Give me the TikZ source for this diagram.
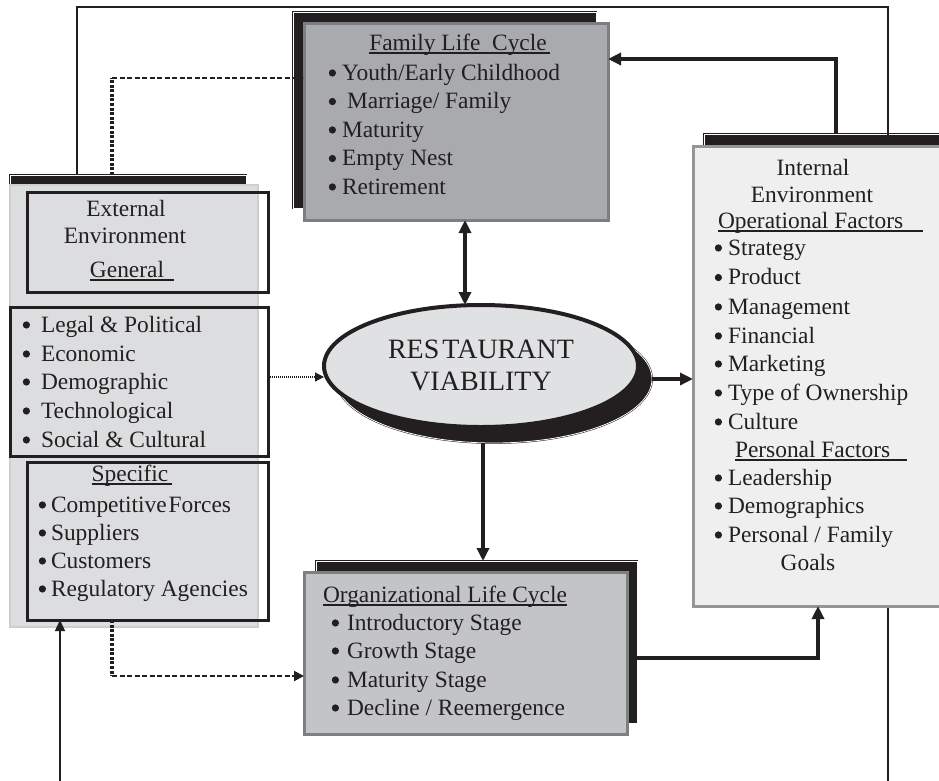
\documentclass[tikz,border=0pt]{standalone}
\usepackage{fontspec}
\setmainfont{Liberation Serif}
\usetikzlibrary{arrows.meta,shapes.geometric,calc}
\definecolor{famgray}{HTML}{A9AAAD}
\definecolor{famedge}{HTML}{7D7E80}
\definecolor{orggray}{HTML}{C3C4C7}
\definecolor{orgedge}{HTML}{7E7F81}
\definecolor{extgray}{HTML}{DCDDDF}
\definecolor{extedge}{HTML}{CDCED0}
\definecolor{intgray}{HTML}{EFEFEF}
\definecolor{intedge}{HTML}{959597}
\definecolor{ellgray}{HTML}{E0E1E3}
\definecolor{ink}{HTML}{231F20}
% bulleted line: name, bullet x, baseline y, text x, text
% a dot drawn beneath the bullet glyph makes it as heavy as in the original
\newcommand\bitem[5]{%
  \coordinate (#1c) at (#2,#3);
  \fill[ink] ([xshift=4.4pt,yshift=7pt]#1c) circle (3.6pt);
  \node[txt, font=\fontsize{25}{28}\selectfont] (#1b) at ([yshift=-1.5pt]#1c) {•};
  \node[txt] (#1) at (#4,#3) {#5};}
\begin{document}
\begin{tikzpicture}[x=1pt,y=-1pt,
  shadowbox/.style={rectangle, fill=ink, draw=ink, double=white, double distance=0.8pt, line width=0.5pt, inner sep=0pt, outer sep=0pt},
  panel/.style={rectangle, inner sep=0pt, outer sep=0pt},
  frame/.style={rectangle, draw=ink, line width=3pt, inner sep=0pt, outer sep=0pt},
  txt/.style={inner sep=0pt, outer sep=0pt, font=\fontsize{23.4}{28}\selectfont, text=ink, anchor=base west},
  ctxt/.style={txt, anchor=base},
  ulstyle/.style={draw=ink, line width=1.2pt},
  bigarrow/.style={draw=ink, line width=4pt, -{Triangle[length=13pt,width=12pt]}},
  thinline/.style={draw=ink, line width=1.2pt},
  dotvert/.style={draw=ink, line width=3.5pt, dash pattern=on 3pt off 1.6pt},
  dashline/.style={draw=ink, line width=2pt, dash pattern=on 5pt off 2.5pt, -{Triangle[length=10pt,width=10pt]}},
  dotline/.style={draw=ink, line width=1.2pt, dash pattern=on 1.2pt off 0.8pt, -{Triangle[length=9pt,width=9pt]}}]
\useasboundingbox (0,0) rectangle (939,780);
\clip (0,0) rectangle (939,780);

% coordinates for connector routes
\coordinate (c1) at (77,7);
\coordinate (c2) at (888,7);
\coordinate (c3) at (888,790);
\coordinate (d1) at (112,78);
\coordinate (t1) at (836,59);
\coordinate (da) at (465,0);
\coordinate (m) at (0,377);
\coordinate (v) at (483,0);
\coordinate (o1) at (818,658);
\coordinate (b1) at (60,790);
\coordinate (d2) at (112,676);

% shadows
\node[shadowbox, minimum width=236pt, minimum height=442pt] (lsh) at (128,396) {};
\node[shadowbox, minimum width=303pt, minimum height=196pt] (famsh) at (444.5,110) {};
\node[shadowbox, minimum width=250pt, minimum height=461pt] (rsh) at (829,364.5) {};
\node[shadowbox, minimum width=321pt, minimum height=162pt] (osh) at (476.5,642) {};

% thin outer line (behind the right panel)
\draw[thinline] (lsh.north -| c1) -- (c1) -- (c2) -- (c3);

% panels
\node[panel, fill=extgray, draw=extedge, line width=1.5pt, minimum width=248pt, minimum height=442pt] (lbox) at (134,406) {};
\node[panel, fill=famgray, draw=famedge, line width=3pt, minimum width=304pt, minimum height=197pt] (fam) at (456,121.5) {};
\node[panel, fill=intgray, draw=intedge, line width=3pt, minimum width=262pt, minimum height=460pt] (rbox) at (824,376) {};
\node[panel, fill=orggray, draw=orgedge, line width=3pt, minimum width=323pt, minimum height=162pt] (obox) at (465.5,653) {};

% inner frames of the external environment panel
\node[frame, minimum width=241pt, minimum height=100pt] (gen) at (147.5,242.5) {};
\node[frame, minimum width=258pt, minimum height=149pt] (bul) at (139,381.5) {};
\node[frame, minimum width=241pt, minimum height=158pt] (spec) at (147.5,541) {};

% ellipse
\node[ellipse, fill=ink, draw=ink, double=white, double distance=0.8pt, line width=0.5pt, minimum width=316pt, minimum height=128pt, inner sep=0pt, outer sep=0pt] (ellsh) at (494,379) {};
\node[ellipse, fill=ellgray, draw=ink, line width=4pt, minimum width=314pt, minimum height=122pt, inner sep=0pt, outer sep=0pt] (ell) at (481,366) {};
\node[ctxt, font=\fontsize{28}{32}\selectfont] (ellt1) at (481,358) {RES\kern3pt TAURANT};
\node[ctxt, font=\fontsize{28}{32}\selectfont] (ellt2) at (481,390) {VIABILITY};

% family life cycle text
\node[ctxt] (famt) at (458,50) {Family Life\ \ Cycle};
\draw[ulstyle] ([yshift=-3pt]famt.base west) -- ([yshift=-3pt,xshift=3pt]famt.base east);
\bitem{f1}{328}{80}{342}{Youth/Early Childhood}
\bitem{f2}{328}{108.5}{347}{Marriage/ Family}
\bitem{f3}{328}{137}{342}{Maturity}
\bitem{f4}{328}{165.5}{342}{Empty Nest}
\bitem{f5}{328}{194}{342}{Retirement}

% external environment text
\node[ctxt] (e1) at (126,216) {External};
\node[ctxt] (e2) at (125,243) {Environment};
\node[ctxt] (e3) at (127,277) {General};
\draw[ulstyle] ([yshift=-3pt]e3.base west) -- ([yshift=-3pt,xshift=10pt]e3.base east);
\bitem{g1}{22}{332}{41}{Legal \& Political}
\bitem{g2}{22}{361}{41}{Economic}
\bitem{g3}{22}{389}{41}{Demographic}
\bitem{g4}{22}{418}{41}{Technological}
\bitem{g5}{22}{447}{41}{Social \& Cultural}
\node[ctxt] (s0) at (130,481) {Specific};
\draw[ulstyle] ([yshift=-3pt]s0.base west) -- ([yshift=-3pt,xshift=4pt]s0.base east);
\bitem{s1}{38}{512}{51}{Competitive\hspace{2pt}Forces}
\bitem{s2}{38}{540}{51}{Suppliers}
\bitem{s3}{38}{568}{51}{Customers}
\bitem{s4}{38}{596}{51}{Regulatory Agencies}

% internal environment text
\node[ctxt] (i1) at (813,175) {Internal};
\node[ctxt] (i2) at (812,202) {Environment};
\node[txt] (i3) at (718,228) {Operational Factors};
\draw[ulstyle] ([yshift=-3pt]i3.base west) -- ([yshift=-3pt,xshift=20pt]i3.base east);
\bitem{r1}{714}{255}{728}{Strategy}
\bitem{r2}{714}{284.5}{728}{Product}
\bitem{r3}{714}{314}{728}{Management}
\bitem{r4}{714}{343}{728}{Financial}
\bitem{r5}{714}{371}{728}{Marketing}
\bitem{r6}{714}{400}{728}{Type of Ownership}
\bitem{r7}{714}{429}{728}{Culture}
\node[txt] (i4) at (735,457) {Personal Factors};
\draw[ulstyle] ([yshift=-3pt]i4.base west) -- ([yshift=-3pt,xshift=17pt]i4.base east);
\bitem{p1}{714}{485}{728}{Leadership}
\bitem{p2}{714}{513}{728}{Demographics}
\bitem{p3}{714}{542}{728}{Personal / Family}
\node[ctxt] (p4) at (808,570) {Goals};

% organizational life cycle text
\node[txt] (ot) at (323,602) {Organizational Life Cycle};
\draw[ulstyle] ([yshift=-3pt]ot.base west) -- ([yshift=-3pt]ot.base east);
\bitem{q1}{331}{630}{347}{Introductory Stage}
\bitem{q2}{331}{658}{347}{Growth Stage}
\bitem{q3}{331}{687}{347}{Maturity Stage}
\bitem{q4}{331}{715}{347}{Decline / Reemergence}

% connectors
\draw[dotvert] (lsh.north -| d1) -- (d1);
\draw[dashline] (d1) -- (d1 -| fam.west);
\draw[bigarrow] (rsh.north -| t1) -- (t1) -- (t1 -| fam.east);
\draw[draw=ink, line width=4pt, {Triangle[length=13pt,width=12pt]}-{Triangle[length=13pt,width=12pt]}] (fam.south -| da) -- (da |- ell.north);
\draw[dotline] (bul.east |- m) -- (ell.west |- m);
\draw[bigarrow] (ellsh.east) -- (ellsh.east -| rbox.west);
\draw[bigarrow] (ellsh.south -| v) -- (v |- osh.north);
\draw[bigarrow] (osh.east |- o1) -- (o1) -- (o1 |- rbox.south);
\draw[thinline, line width=1.5pt, -{Triangle[length=11pt,width=10pt]}] (b1) -- (b1 |- spec.south);
\draw[dotvert] (spec.south -| d2) -- (d2);
\draw[dashline] (d2) -- (d2 -| obox.west);
\end{tikzpicture}
\end{document}
